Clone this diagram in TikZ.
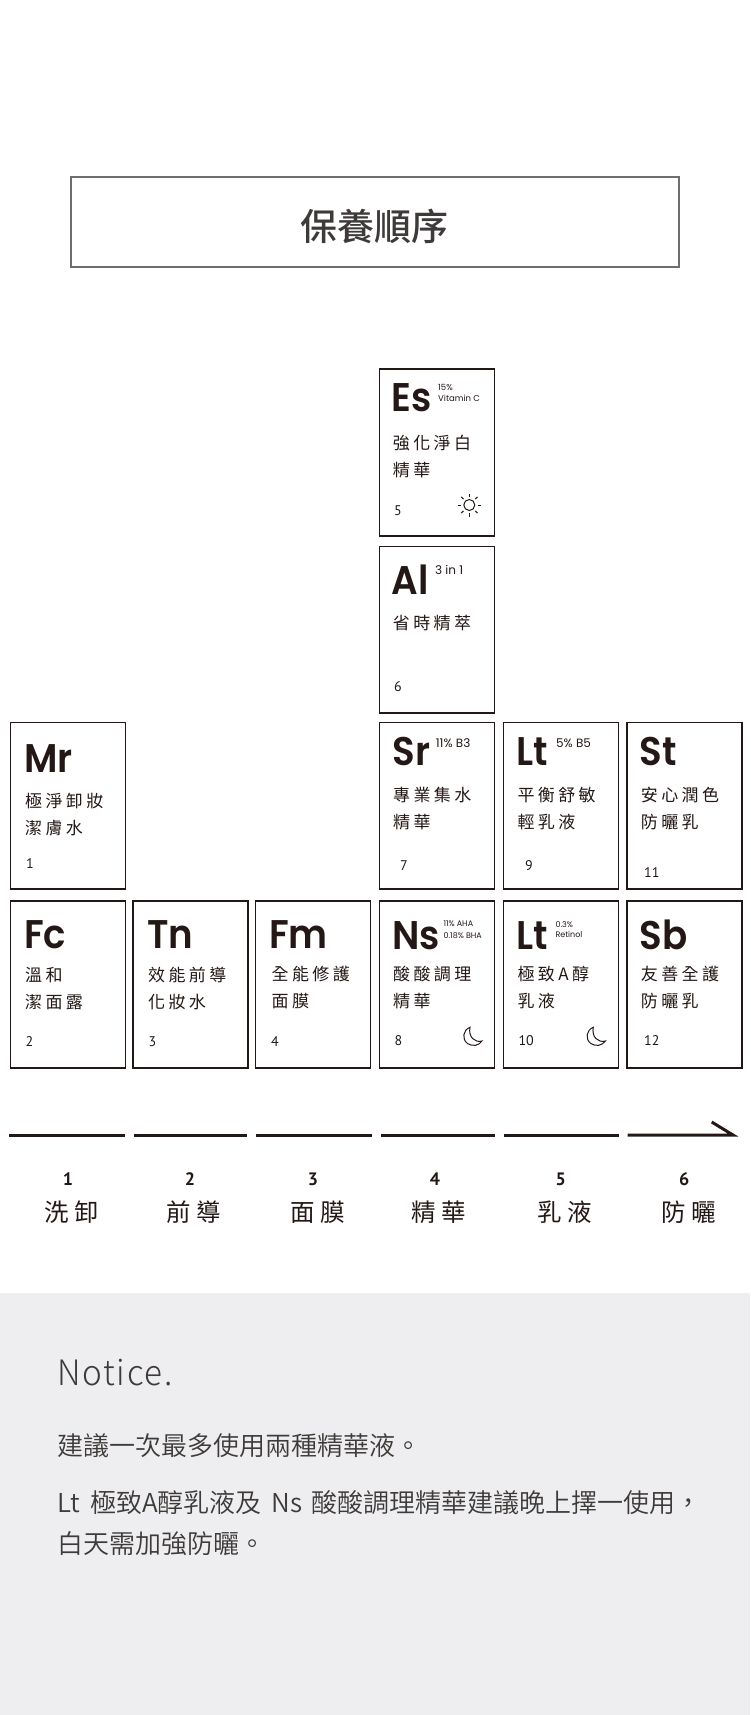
\documentclass[tikz,border=0pt]{standalone}
\usepackage{fontspec}
\setmainfont{Noto Sans CJK TC}
\newfontfamily\titlefont{Noto Sans CJK TC Medium}
\newfontfamily\capfont[LetterSpace=20]{Noto Sans CJK TC}
\newfontfamily\stagefont[LetterSpace=22]{Noto Sans CJK TC}
\newfontfamily\noticefont{Noto Sans CJK TC DemiLight}
\newfontfamily\symfont[FakeStretch=0.93]{Poppins SemiBold}
\newfontfamily\notefont{Poppins}
\newfontfamily\numfont{PT Sans}
\newfontfamily\headfont[LetterSpace=5,FakeStretch=0.95]{Noto Sans CJK TC Light}
\definecolor{inkblack}{HTML}{231815}
\definecolor{inkgray}{HTML}{3E3A39}
\definecolor{framegray}{HTML}{6E6E6E}
\definecolor{panelgray}{HTML}{EEEEF0}
\tikzset{
  cardbox/.style={rectangle, draw=inkblack, line width=1.5pt, fill=white, minimum width=115pt, minimum height=166.7pt, inner sep=0pt, outer sep=0pt},
  cardsym/.style={anchor=base west, inner sep=0pt, text=inkblack, font=\symfont\fontsize{40}{40}\selectfont},
  cardnote/.style={anchor=base west, inner sep=0pt, text=inkblack, align=left, font=\notefont\fontsize{8.5}{10.5}\selectfont},
  cardcap/.style={anchor=base west, inner sep=0pt, text=inkblack, align=left, font=\capfont\fontsize{17}{27}\selectfont},
  cardnum/.style={anchor=base west, inner sep=0pt, text=inkblack, font=\numfont\fontsize{14}{14}\selectfont},
  stagenum/.style={anchor=base, inner sep=0pt, text=inkblack, font=\numfont\bfseries\fontsize{18}{18}\selectfont},
  stagecap/.style={anchor=base west, inner sep=0pt, text=inkblack, font=\stagefont\fontsize{24.5}{24.5}\selectfont},
  noticeline/.style={anchor=base west, inner sep=0pt, text=inkgray, font=\noticefont\fontsize{26}{26}\selectfont},
  stageline/.style={draw=inkblack, line width=3pt},
  iconline/.style={draw=inkblack, line width=1pt},
  sunicon/.pic={
    \draw[iconline] (0,0) circle (5.5pt);
    \foreach \ang in {0,45,...,315}
      \draw[iconline] (\ang:8.3pt) -- (\ang:11.5pt);
  },
  moonicon/.pic={
    \draw[iconline] (-3,-8.7) .. controls (-10,-6) and (-11.5,3) .. (-5.5,7.5) .. controls (-0.5,11) and (6,9.5) .. (9,5) .. controls (2,7) and (-5,1) .. (-3,-8.7) -- cycle;
  }
}
\begin{document}
\begin{tikzpicture}[x=1pt, y=-1pt]
  \useasboundingbox (0,0) rectangle (750,1715);
  \fill[panelgray] (0,1293) rectangle (750,1715);

  \node[rectangle, draw=framegray, line width=2pt, minimum width=608pt, minimum height=89pt, outer sep=0pt] (titlebox) at (374.5,222) {};
  \node[inner sep=0pt, anchor=base, text=inkgray, font=\titlefont\fontsize{37}{37}\selectfont] (titletext) at (374,240) {保養順序};

  \node[cardbox] (esbox) at (436.8,452.5) {};
  \node[cardsym] (essym) at (391.7,411.7) {Es};
  \node[cardnote] (esnote) at (438,401) {15\%\\Vitamin C};
  \node[cardcap] (escap) at (392.7,476.5) {強化淨白\\精華};
  \node[cardnum] (esnum) at (394,515.7) {5};
  \pic (essun) at (469.3,505) {sunicon};

  \node[cardbox] (albox) at (436.8,629.7) {};
  \node[cardsym] (alsym) at (391.7,594) {Al};
  \node[cardnote, font=\notefont\fontsize{12}{12}\selectfont] (alnote) at (435,574) {3 in 1};
  \node[cardcap] (alcap) at (392.7,629.8) {省時精萃};
  \node[cardnum] (alnum) at (394,691.7) {6};

  \node[cardbox] (mrbox) at (67.8,805.7) {};
  \node[cardsym] (mrsym) at (24,772.3) {Mr};
  \node[cardcap] (mrcap) at (25,834.8) {極淨卸妝\\潔膚水};
  \node[cardnum] (mrnum) at (26,868.3) {1};

  \node[cardbox] (srbox) at (437,805.7) {};
  \node[cardsym] (srsym) at (392.3,765.7) {Sr};
  \node[cardnote, font=\notefont\fontsize{12}{12}\selectfont] (srnote) at (435.7,747.3) {11\% B3};
  \node[cardcap] (srcap) at (393,828.2) {專業集水\\精華};
  \node[cardnum] (srnum) at (400,870) {7};

  \node[cardbox] (ltabox) at (560.8,805.7) {};
  \node[cardsym] (ltasym) at (516.3,765.7) {Lt};
  \node[cardnote, font=\notefont\fontsize{12}{12}\selectfont] (ltanote) at (556,747.3) {5\% B5};
  \node[cardcap] (ltacap) at (517.3,828.2) {平衡舒敏\\輕乳液};
  \node[cardnum] (ltanum) at (525,870) {9};

  \node[cardbox] (stbox) at (684.5,805.7) {};
  \node[cardsym] (stsym) at (639.7,765.7) {St};
  \node[cardcap] (stcap) at (640.7,828.2) {安心潤色\\防曬乳};
  \node[cardnum] (stnum) at (644,877.3) {11};

  \node[cardbox] (fcbox) at (67.8,984.4) {};
  \node[cardsym] (fcsym) at (24,948.3) {Fc};
  \node[cardcap] (fccap) at (25,1008.8) {溫和\\潔面露};
  \node[cardnum] (fcnum) at (25.5,1046.7) {2};

  \node[cardbox] (tnbox) at (190.4,984.4) {};
  \node[cardsym] (tnsym) at (147,948.3) {Tn};
  \node[cardcap] (tncap) at (148,1008.8) {效能前導\\化妝水};
  \node[cardnum] (tnnum) at (148.5,1046.7) {3};

  \node[cardbox] (fmbox) at (313.2,984.4) {};
  \node[cardsym] (fmsym) at (269,948.3) {Fm};
  \node[cardcap] (fmcap) at (271.5,1007.2) {全能修護\\面膜};
  \node[cardnum] (fmnum) at (271,1046.7) {4};

  \node[cardbox] (nsbox) at (437,984.4) {};
  \node[cardsym] (nssym) at (392,949) {Ns};
  \node[cardnote, font=\notefont\fontsize{8}{11.3}\selectfont] (nsnote) at (443.3,938) {11\% AHA\\0.18\% BHA};
  \node[cardcap] (nscap) at (393,1007.2) {酸酸調理\\精華};
  \node[cardnum] (nsnum) at (394.3,1045) {8};
  \pic (nsmoon) at (473,1036) {moonicon};

  \node[cardbox] (ltbbox) at (560.8,984.4) {};
  \node[cardsym] (ltbsym) at (516.3,949) {Lt};
  \node[cardnote, font=\notefont\fontsize{8}{10}\selectfont] (ltbnote) at (555.3,937.3) {0.3\%\\Retinol};
  \node[cardcap] (ltbcap) at (517.3,1007.2) {極致A醇\\乳液};
  \node[cardnum] (ltbnum) at (518.3,1045) {10};
  \pic (ltbmoon) at (596.3,1036) {moonicon};

  \node[cardbox] (sbbox) at (684.5,984.4) {};
  \node[cardsym] (sbsym) at (639.7,949) {Sb};
  \node[cardcap] (sbcap) at (640.7,1007.2) {友善全護\\防曬乳};
  \node[cardnum] (sbnum) at (644,1045) {12};

  \foreach \n/\a/\b in {1/9.3/125,2/134/247.3,3/256/371.7,4/381/495,5/504.3/618.7}{
    \coordinate (seg\n a) at (\a,1135);
    \coordinate (seg\n b) at (\b,1135);
    \draw[stageline] (seg\n a) -- (seg\n b);
  }
  \coordinate (seg6a) at (627.7,1135);
  \coordinate (seg6b) at (733,1135);
  \coordinate (seg6tick) at (711.7,1122);
  \draw[stageline] (seg6a) -- (seg6b) -- (seg6tick);

  \node[stagenum] (stage1num) at (68,1185) {1};
  \node[stagenum] (stage2num) at (190,1185) {2};
  \node[stagenum] (stage3num) at (313,1185) {3};
  \node[stagenum] (stage4num) at (435,1185) {4};
  \node[stagenum] (stage5num) at (560.7,1185) {5};
  \node[stagenum] (stage6num) at (684.3,1185) {6};
  \node[stagecap] (stage1cap) at (44,1221.5) {洗卸};
  \node[stagecap] (stage2cap) at (166.7,1221.5) {前導};
  \node[stagecap] (stage3cap) at (290,1221.5) {面膜};
  \node[stagecap] (stage4cap) at (411,1221.5) {精華};
  \node[stagecap] (stage5cap) at (537.3,1221.5) {乳液};
  \node[stagecap] (stage6cap) at (661.7,1221.5) {防曬};

  \node[noticeline, font=\headfont\fontsize{35}{35}\selectfont] (noticehead) at (57,1385) {Notice.};
  \node[noticeline] (notice1) at (57,1455) {建議一次最多使用兩種精華液。};
  \node[noticeline] (notice2) at (57,1512) {Lt\hspace{10pt}極致A醇乳液及\hspace{10pt}Ns\hspace{9pt}酸酸調理精華建議晚上擇一使用，};
  \node[noticeline] (notice3) at (57,1553) {白天需加強防曬。};
\end{tikzpicture}
\end{document}
